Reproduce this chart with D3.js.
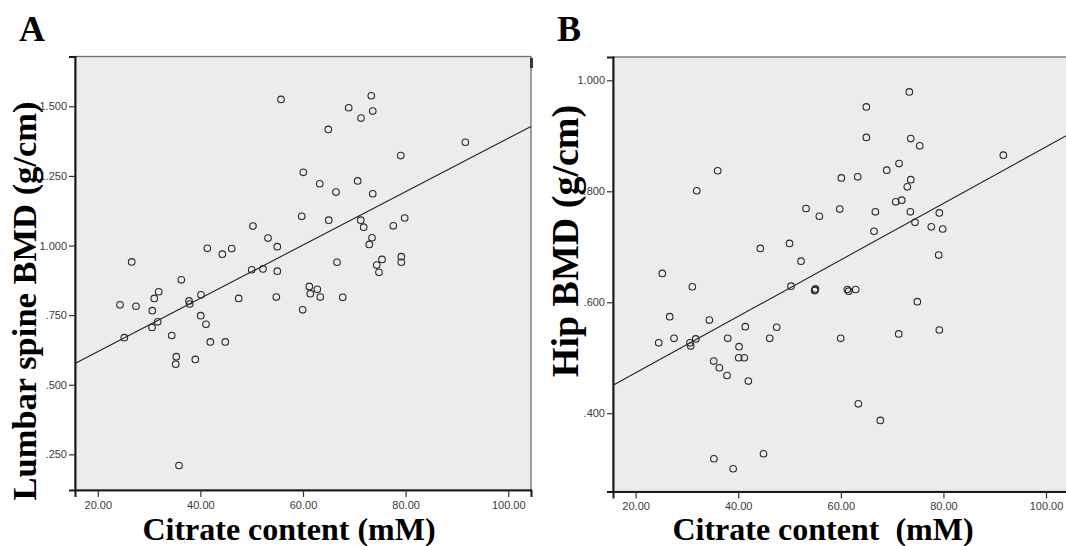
<!DOCTYPE html>
<html>
<head>
<meta charset="utf-8">
<script src="https://cdn.jsdelivr.net/npm/d3@7"></script>
<style>
  body { margin: 0; background: #fff; }
  svg { display: block; }
</style>
</head>
<body>
<div id="chart"></div>
<script>
// Citrate content (mM) and BMD, one entry per subject
var citrateA = [55.71, 26.61, 41.35, 44.27, 46.10, 50.25, 53.18, 54.99, 50.00, 52.20,
    54.99, 24.33, 27.45, 31.01, 31.87, 30.62, 31.68, 30.57, 25.17, 36.28,
    37.78, 37.91, 40.12, 47.47, 54.80, 40.06, 41.09, 34.41, 41.93, 44.85,
    35.30, 35.19, 39.01, 35.83, 73.31, 68.91, 73.59, 71.31, 64.93, 91.64,
    79.05, 60.06, 63.26, 70.66, 66.43, 73.59, 59.75, 65.01, 71.25, 71.83,
    77.60, 79.82, 73.45, 72.92, 66.63, 75.40, 74.37, 79.16, 79.16, 74.81,
    61.23, 62.79, 61.42, 63.37, 67.74, 59.94];
var spineBMD = [1.525, 0.941, 0.990, 0.969, 0.989, 1.070, 1.027, 0.996, 0.913, 0.916,
    0.908, 0.787, 0.782, 0.810, 0.834, 0.766, 0.726, 0.706, 0.669, 0.877,
    0.801, 0.790, 0.823, 0.810, 0.815, 0.748, 0.717, 0.677, 0.654, 0.654,
    0.601, 0.574, 0.591, 0.210, 1.538, 1.495, 1.483, 1.458, 1.417, 1.371,
    1.323, 1.263, 1.222, 1.232, 1.192, 1.186, 1.105, 1.091, 1.091, 1.066,
    1.071, 1.099, 1.028, 1.004, 0.940, 0.950, 0.930, 0.960, 0.940, 0.904,
    0.853, 0.843, 0.827, 0.815, 0.814, 0.769];

var citrateB = [36.00, 31.91, 53.22, 55.81, 44.31, 50.00, 52.24, 25.20, 31.05, 50.29,
    54.97, 55.05, 54.90, 26.65, 34.37, 41.38, 47.50, 24.50, 27.49, 30.60,
    30.74, 31.72, 37.95, 46.14, 40.16, 40.10, 41.19, 35.22, 36.32, 37.82,
    41.97, 35.26, 39.01, 44.93, 73.35, 64.97, 64.97, 73.63, 75.38, 91.68,
    71.35, 68.95, 60.10, 63.29, 73.63, 72.96, 70.70, 71.87, 59.79, 66.73,
    73.55, 79.20, 74.46, 77.64, 79.86, 66.47, 79.08, 61.27, 61.54, 62.90,
    74.91, 59.98, 71.29, 79.20, 63.41, 67.70];
var hipBMD = [0.837, 0.801, 0.769, 0.755, 0.697, 0.706, 0.674, 0.652, 0.628, 0.629,
    0.622, 0.624, 0.621, 0.574, 0.568, 0.556, 0.555, 0.527, 0.535, 0.527,
    0.521, 0.534, 0.535, 0.535, 0.520, 0.500, 0.500, 0.494, 0.482, 0.468,
    0.458, 0.318, 0.300, 0.327, 0.979, 0.952, 0.897, 0.895, 0.882, 0.865,
    0.850, 0.838, 0.824, 0.826, 0.821, 0.808, 0.781, 0.784, 0.768, 0.763,
    0.763, 0.761, 0.744, 0.736, 0.732, 0.728, 0.685, 0.623, 0.620, 0.623,
    0.601, 0.535, 0.543, 0.550, 0.417, 0.387];

// fit lines (intercept, slope)
var fitA = [0.427, 0.00958];
var fitB = [0.371, 0.00509];

var xTicks = [20, 40, 60, 80, 100];
var yTicksA = [0.25, 0.5, 0.75, 1.0, 1.25, 1.5];
var yTicksB = [0.4, 0.6, 0.8, 1.0];

var svg = d3.select("#chart").append("svg")
    .attr("width", 1066)
    .attr("height", 546);

var fmtX = d3.format(".2f");
function fmtY(d) { return d3.format(".3f")(d).replace(/^0/, ""); }

/* Draws one SPSS style scatter panel
   p : box, domains, data and labels of the panel
 */
function panel(p) {
    var x = d3.scaleLinear().domain(p.xDomain).range([p.left, p.right]);
    var y = d3.scaleLinear().domain(p.yDomain).range([p.bottom, p.top]);
    var g = svg.append("g");

    g.append("rect")
        .attr("x", p.left).attr("y", p.top)
        .attr("width", p.right - p.left).attr("height", p.bottom - p.top)
        .attr("fill", "#ececec")
        .attr("stroke", "#6e6e6e")
        .attr("stroke-width", 1.3);

    var line = d3.line()
        .x(function(d) { return x(d); })
        .y(function(d) { return y(p.fit[0] + p.fit[1] * d); });
    g.append("path")
        .datum(p.xDomain)
        .attr("d", line)
        .attr("fill", "none")
        .attr("stroke", "#222")
        .attr("stroke-width", 1.1);

    g.selectAll("circle")
        .data(p.xs)
        .enter().append("circle")
        .attr("cx", function(d) { return x(d); })
        .attr("cy", function(d, i) { return y(p.ys[i]); })
        .attr("r", 3.3)
        .attr("fill", "none")
        .attr("stroke", "#2a2a2a")
        .attr("stroke-width", 1.1);

    var ax = g.append("g")
        .attr("transform", "translate(0," + p.bottom + ")")
        .call(d3.axisBottom(x).tickValues(xTicks).tickFormat(fmtX).tickSizeOuter(0).tickSize(7).tickPadding(4));
    var ay = g.append("g")
        .attr("transform", "translate(" + p.left + ",0)")
        .call(d3.axisLeft(y).tickValues(p.yTicks).tickFormat(fmtY).tickSizeOuter(0).tickSize(6).tickPadding(2));
    [ax, ay].forEach(function(a) {
        a.select(".domain").attr("stroke", "#1a1a1a").attr("stroke-width", 2);
        a.selectAll(".tick line").attr("stroke", "#333").attr("stroke-width", 1.2);
        a.selectAll("text")
            .attr("fill", "#3a3a3a")
            .style("font-family", "'Liberation Sans', Arial, sans-serif")
            .style("font-size", "11px");
    });

    svg.append("text")
        .attr("x", p.letterX).attr("y", 41)
        .text(p.letter)
        .style("font-family", "'Liberation Serif', 'Times New Roman', serif")
        .style("font-weight", "bold")
        .style("font-size", "36px");

    svg.append("text")
        .attr("transform", "translate(" + p.yTitleX + "," + p.yTitleY + ") rotate(-90)")
        .attr("text-anchor", "middle")
        .text(p.yTitle)
        .style("font-family", "'Liberation Serif', 'Times New Roman', serif")
        .style("font-weight", "bold")
        .style("font-size", p.yTitleSize + "px");

    svg.append("text")
        .attr("x", p.xTitleX).attr("y", 540)
        .attr("text-anchor", "middle")
        .text(p.xTitle)
        .style("white-space", "pre")
        .style("font-family", "'Liberation Serif', 'Times New Roman', serif")
        .style("font-weight", "bold")
        .style("font-size", "32px");
}

panel({
    left: 75, right: 531, top: 56.5, bottom: 490,
    xDomain: [15.56, 104.44], yDomain: [0.122, 1.679],
    xs: citrateA, ys: spineBMD, fit: fitA, yTicks: yTicksA,
    letter: "A", letterX: 19,
    yTitle: "Lumbar spine BMD (g/cm)", yTitleX: 36, yTitleY: 301, yTitleSize: 34.5,
    xTitle: "Citrate content (mM)", xTitleX: 289
});

panel({
    left: 613, right: 1069, top: 57, bottom: 491.5,
    xDomain: [15.59, 104.48], yDomain: [0.259, 1.042],
    xs: citrateB, ys: hipBMD, fit: fitB, yTicks: yTicksB,
    letter: "B", letterX: 557,
    yTitle: "Hip BMD (g/cm)", yTitleX: 578, yTitleY: 241, yTitleSize: 38,
    xTitle: "Citrate content  (mM)", xTitleX: 823
});

// small mark at the top right corner of panel A
svg.append("rect")
    .attr("x", 530).attr("y", 58).attr("width", 3).attr("height", 10)
    .attr("fill", "#333");
</script>
</body>
</html>
